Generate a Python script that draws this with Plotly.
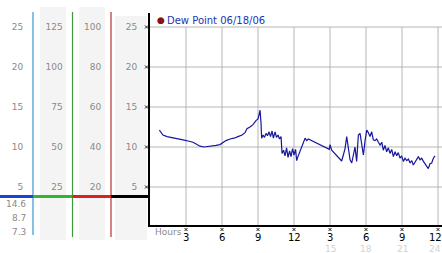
import plotly.graph_objects as go

# ---- data (hours since midnight, dew point) ----
hours = [0.78, 0.92, 1.08, 1.42, 1.83, 2.25, 2.75, 3.17, 3.58, 3.92, 4.17, 4.5, 4.83, 5.17, 5.5,
         5.83, 6.0, 6.33, 6.67, 7.0, 7.33, 7.67, 7.92, 8.08, 8.33, 8.58, 8.83, 9.0, 9.08, 9.17,
         9.25, 9.3, 9.42, 9.54, 9.67, 9.79, 9.92, 10.04, 10.17, 10.28, 10.42, 10.54, 10.67, 10.79,
         10.92, 11.0, 11.13, 11.25, 11.38, 11.5, 11.63, 11.75, 11.88, 12.0, 12.13, 12.22, 12.33,
         12.5, 12.67, 12.83, 12.92, 13.06, 13.19, 14.94, 15.0, 15.14, 15.33, 15.58, 15.83, 15.97,
         16.11, 16.25, 16.39, 16.53, 16.67, 16.81, 16.94, 17.08, 17.22, 17.36, 17.5, 17.64, 17.78,
         17.92, 18.06, 18.19, 18.33, 18.47, 18.61, 18.75, 18.89, 19.03, 19.17, 19.31, 19.44, 19.58,
         19.72, 19.86, 20.0, 20.14, 20.28, 20.42, 20.56, 20.69, 20.83, 20.97, 21.11, 21.25, 21.39,
         21.53, 21.67, 21.81, 21.94, 22.08, 22.22, 22.36, 22.5, 22.64, 22.78, 22.92, 23.06, 23.19,
         23.33, 23.47, 23.61, 23.75]
dew_point = [12.1, 11.8, 11.5, 11.3, 11.2, 11.1, 10.9, 10.75, 10.6, 10.3, 10.1, 10.0, 10.05, 10.1, 10.2,
             10.3, 10.5, 10.8, 11.0, 11.1, 11.3, 11.5, 11.8, 12.3, 12.5, 12.8, 13.3, 13.5, 14.0, 14.6,
             13.0, 11.1, 11.5, 11.2, 11.7, 11.4, 11.9, 11.3, 12.0, 11.1, 11.9, 11.2, 11.5, 11.0,
             11.3, 9.2, 9.6, 8.9, 9.9, 8.7, 9.5, 8.8, 9.8, 9.0, 9.7, 8.3, 8.8,
             9.4, 10.0, 10.6, 11.1, 10.8, 11.0, 9.7, 10.3, 9.6, 9.3, 8.9, 8.6, 8.25,
             9.0, 9.8, 11.3, 9.8, 8.4, 8.0, 9.0, 10.0, 8.2, 11.5, 11.7, 10.0, 9.0,
             10.8, 12.1, 11.8, 11.3, 11.9, 10.9, 10.8, 11.0, 10.6, 10.25, 10.6, 9.6, 10.2,
             9.4, 9.9, 9.2, 9.7, 8.8, 9.4, 8.9, 9.3, 8.6, 8.9, 8.2, 8.6, 8.3,
             8.5, 8.0, 8.3, 7.75, 8.1, 8.5, 8.8, 8.4, 8.6, 8.2, 7.9, 7.6, 7.3,
             7.9, 8.0, 8.6, 8.9]

x_tick_vals = [3, 6, 9, 12, 15, 18, 21, 24]
x_tick_text = ["3", "6", "9", "12", "3", "6", "9", "12"]
x_tick_text2 = ["15", "18", "21", "24"]
y_ticks = [5, 10, 15, 20, 25]
col2_ticks = [25, 50, 75, 100, 125]
col3_ticks = [20, 40, 60, 80, 100]
stats = ["14.6", "8.7", "7.3"]
legend_label = "Dew Point 06/18/06"

W, H = 442, 253
FONT = "DejaVu Sans"
LBL = "#8a8a8a"


def px(x):
    return x / W


def py(y):
    return 1 - y / H


Y0, Y1 = 0.25, 26.75
X0, X1 = 0.0, 24.33
dom_y = [py(225), py(13)]

fig = go.Figure()
fig.add_trace(go.Scatter(x=hours, y=dew_point, mode="lines",
                         line=dict(color="#16169e", width=1.2), showlegend=False,
                         hoverinfo="skip"))

shapes = []
# gray background columns
for (a, b, top) in [(40, 66, 7), (79, 105, 7), (115, 147, 16)]:
    shapes.append(dict(type="rect", xref="paper", yref="paper", x0=px(a), x1=px(b),
                       y0=py(240), y1=py(top), fillcolor="#f4f4f4", line=dict(width=0),
                       layer="below"))
# gridlines
for v in y_ticks:
    shapes.append(dict(type="line", xref="x", yref="y", x0=X0, x1=X1, y0=v, y1=v,
                       line=dict(color="#b5b5b5", width=1), layer="below"))
for v in x_tick_vals:
    shapes.append(dict(type="line", xref="x", yref="y", x0=v, x1=v, y0=Y0, y1=25,
                       line=dict(color="#b5b5b5", width=1), layer="below"))
# colored vertical lines
for (xx, col, bot) in [(33, "#3a96d0", 235), (72.5, "#3a9a3a", 237), (111, "#b83030", 237)]:
    shapes.append(dict(type="line", xref="paper", yref="paper", x0=px(xx), x1=px(xx),
                       y0=py(bot), y1=py(12), line=dict(color=col, width=1.2)))
# colored horizontal segments
for (a, b, col) in [(0, 33, "#1844d0"), (33, 72.5, "#2eb82e"), (72.5, 111, "#e02020"),
                    (111, 150, "#000000")]:
    shapes.append(dict(type="line", xref="paper", yref="paper", x0=px(a), x1=px(b),
                       y0=py(196.5), y1=py(196.5), line=dict(color=col, width=3)))


# tiny tick crosses (pixel-sized shapes anchored at tick positions)
def cross(xref, yref, xa, ya):
    out = []
    for (a, b) in [((-1.5, -1.5), (1.5, 1.5)), ((-1.5, 1.5), (1.5, -1.5))]:
        out.append(dict(type="line", xref=xref, yref=yref, xsizemode="pixel", ysizemode="pixel",
                        xanchor=xa, yanchor=ya, x0=a[0], y0=a[1], x1=b[0], y1=b[1],
                        line=dict(color="#222", width=1)))
    return out


for v in x_tick_vals:
    shapes += cross("x", "paper", v, py(229.5))
for v in y_ticks:
    shapes += cross("paper", "y", px(146.5), v)

ann = []
# legend
ann.append(dict(xref="paper", yref="paper", x=px(161), y=py(20.5), text="●", showarrow=False,
                font=dict(family=FONT, size=9, color="#8b1010"), xanchor="center", yanchor="middle"))
ann.append(dict(xref="paper", yref="paper", x=px(165), y=py(20.5), text=legend_label, showarrow=False,
                font=dict(family=FONT, size=10, color="#1c34b8"), xanchor="left", yanchor="middle"))
# Hours label
ann.append(dict(xref="paper", yref="paper", x=px(153), y=py(232), text="Hours", showarrow=False,
                font=dict(family=FONT, size=9, color=LBL), xanchor="left", yanchor="middle"))
# hour tick labels and 24h labels
for v, t in zip(x_tick_vals, x_tick_text):
    shift = -3 if v == x_tick_vals[-1] else 0
    ann.append(dict(xref="x", yref="paper", x=v, y=py(237.5), text=t, showarrow=False, xshift=shift,
                    font=dict(family=FONT, size=10, color="#000"), xanchor="center", yanchor="middle"))
for v, t in zip(x_tick_vals[4:], x_tick_text2):
    shift = -3 if v == x_tick_vals[-1] else 0
    ann.append(dict(xref="x", yref="paper", x=v, y=py(249), text=t, showarrow=False, xshift=shift,
                    font=dict(family=FONT, size=9, color="#d2d2d2"), xanchor="center", yanchor="middle"))
# stats
for t, yy in zip(stats, [204, 218, 232]):
    ann.append(dict(xref="paper", yref="paper", x=px(27.5), y=py(yy), text=t, showarrow=False,
                    font=dict(family=FONT, size=9, color=LBL), xanchor="right", yanchor="middle"))

side_axis = dict(overlaying="y", anchor="free", side="left", showgrid=False, showline=False,
                 zeroline=False, ticks="outside", ticklen=8, tickcolor="rgba(0,0,0,0)",
                 tickfont=dict(family=FONT, size=9, color=LBL))

fig.update_layout(
    width=W, height=H, margin=dict(l=0, r=0, t=0, b=0),
    paper_bgcolor="white", plot_bgcolor="white",
    xaxis=dict(domain=[px(150), 1], range=[X0, X1], showgrid=False, zeroline=False,
               showline=True, linecolor="black", linewidth=2,
               tickvals=x_tick_vals, showticklabels=False, ticks=""),
    yaxis=dict(domain=dom_y, range=[Y0, Y1], showgrid=False, zeroline=False,
               showline=True, linecolor="black", linewidth=2,
               tickvals=y_ticks, ticks="outside", ticklen=9, tickcolor="rgba(0,0,0,0)",
               tickfont=dict(family=FONT, size=9, color=LBL)),
    yaxis2=dict(side_axis, position=px(111), range=[Y0 * 4, Y1 * 4], tickvals=col3_ticks),
    yaxis3=dict(side_axis, position=px(72.5), range=[Y0 * 5, Y1 * 5], tickvals=col2_ticks),
    yaxis4=dict(side_axis, position=px(33), range=[Y0, Y1], tickvals=y_ticks),
    shapes=shapes, annotations=ann, showlegend=False,
)
# invisible traces to activate side axes
for ax in ["y2", "y3", "y4"]:
    fig.add_trace(go.Scatter(x=[None], y=[None], yaxis=ax, showlegend=False, hoverinfo="skip"))

fig.write_html("out.html")
